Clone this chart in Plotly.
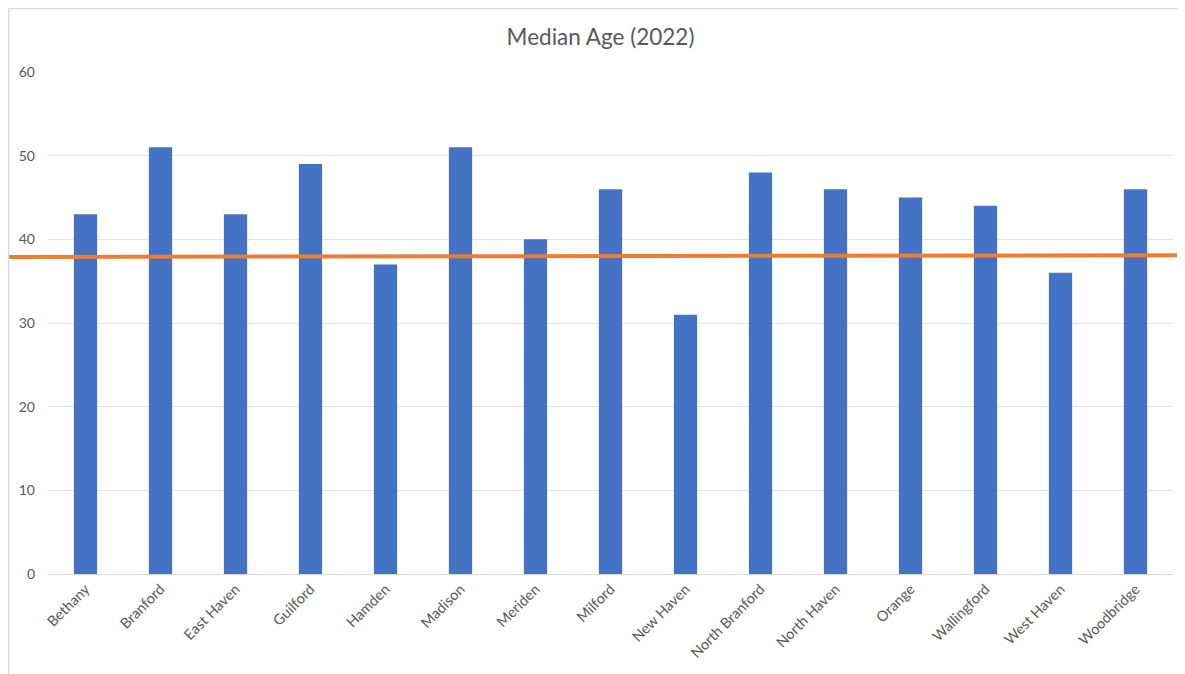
import plotly.graph_objects as go

towns = ["Bethany", "Branford", "East Haven", "Guilford", "Hamden", "Madison", "Meriden",
         "Milford", "New Haven", "North Branford", "North Haven", "Orange", "Wallingford",
         "West Haven", "Woodbridge"]
median_age = [43, 51, 43, 49, 37, 51, 40, 46, 31, 48, 46, 45, 44, 36, 46]
reference_line = [37.9, 38.1]  # left, right end of the orange line
y_ticks = [0, 10, 20, 30, 40, 50, 60]

fig = go.Figure()
fig.add_trace(go.Bar(x=towns, y=median_age, marker=dict(color="#4472C4", line=dict(width=0)),
                     showlegend=False))

fig.add_shape(type="line", xref="paper", yref="y", x0=-0.0427, x1=1.0107,
              y0=reference_line[0], y1=reference_line[1],
              line=dict(color="#ED7D31", width=4), layer="above")
# chart border (top and left)
fig.add_shape(type="line", xref="paper", yref="paper", x0=-0.0351, x1=1.03, y0=1.1265, y1=1.1265,
              line=dict(color="#D9D9D9", width=1.5))
fig.add_shape(type="line", xref="paper", yref="paper", x0=-0.0351, x1=-0.0351, y0=1.1265, y1=-0.23,
              line=dict(color="#D9D9D9", width=1.5))

fig.update_layout(
    width=1185, height=674,
    margin=dict(l=40, r=20, t=64, b=108),
    paper_bgcolor="white", plot_bgcolor="white",
    font=dict(family="Lato, Open Sans, sans-serif", color="#595959", size=13),
    title=dict(text="Median Age (2022)", x=0.5, xanchor="center", y=0.957, yanchor="middle",
               font=dict(size=22.5, color="#595959")),
    bargap=0.69,
    xaxis=dict(tickangle=-45, showgrid=False, showline=True, linecolor="#D9D9D9", linewidth=1,
               ticks="", tickfont=dict(size=14.5, color="#595959")),
    yaxis=dict(range=[0, 60], tickvals=y_ticks, showgrid=True, gridcolor="#E3E3E3", gridwidth=1,
               zeroline=False, ticks="", ticklabelstandoff=12, showline=False,
               tickfont=dict(size=14, color="#595959")),
)

fig.write_html("out.html")
